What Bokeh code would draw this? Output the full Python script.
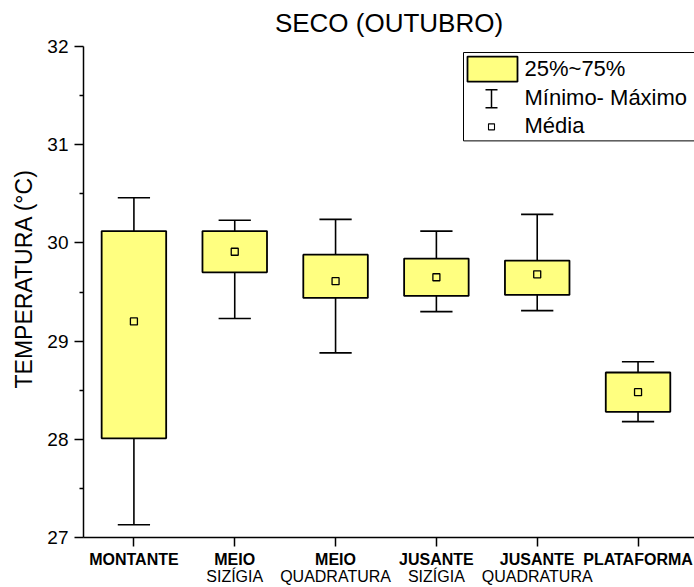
from bokeh.plotting import figure
from bokeh.models import Range1d, FixedTicker, LinearAxis, ColumnDataSource, Title
from bokeh.core.properties import value
from bokeh.embed import file_html
from bokeh.resources import INLINE

# --- data: water temperature (°C), dry season (October) ---
stations_top = ["MONTANTE", "MEIO", "MEIO", "JUSANTE", "JUSANTE", "PLATAFORMA"]
stations_sub = ["", "SIZÍGIA", "QUADRATURA", "SIZÍGIA", "QUADRATURA", ""]
t_min = [27.13, 29.23, 28.88, 29.30, 29.31, 28.18]
t_q1 = [28.01, 29.70, 29.44, 29.46, 29.47, 28.28]
t_mean = [29.20, 29.91, 29.61, 29.65, 29.68, 28.48]
t_q3 = [30.12, 30.12, 29.88, 29.84, 29.82, 28.68]
t_max = [30.46, 30.23, 30.24, 30.12, 30.29, 28.79]
y_ticks = [27, 28, 29, 30, 31, 32]
legend_labels = ["25%~75%", "Mínimo- Máximo", "Média"]
title_text = "SECO (OUTUBRO)"
y_label_text = "TEMPERATURA (°C)"

FONT = "Liberation Sans"
W, H = 694, 587
LEFT, TOP, FRAME_BOTTOM = 83, 47, 536
X_START, X_END = 0.5, 6.56
Y_START, Y_END = 27, 32
BOX_W = 0.64
CAP_W = 0.32
YELLOW = "#ffff80"

x = list(range(1, len(t_mean) + 1))
src = ColumnDataSource(dict(
    x=x, t_min=t_min, q1=t_q1, mean=t_mean, q3=t_q3, t_max=t_max,
    cap_l=[v - CAP_W / 2 for v in x], cap_r=[v + CAP_W / 2 for v in x],
))

p = figure(width=W, height=H,
           x_range=Range1d(X_START, X_END), y_range=Range1d(Y_START, Y_END),
           x_axis_type=None, output_backend="svg", toolbar_location=None,
           min_border_left=LEFT, min_border_right=0, min_border_top=0,
           min_border_bottom=0, title=title_text)
p.outline_line_color = None
p.grid.visible = False
p.background_fill_color = "white"

p.title.text_font = FONT
p.title.text_font_size = "26px"
p.title.text_font_style = "normal"
p.title.text_color = "black"
p.title.align = "center"
p.title.vertical_align = "top"
p.title.standoff = 14

# vertical axis title, set a little above the middle of the axis
p.add_layout(Title(text=y_label_text, align="left", offset=149, standoff=16,
                   vertical_align="bottom", text_font=FONT, text_font_size="23px",
                   text_font_style="normal", text_color="black"), "left")


# helper mapping canvas pixels to data units (legend layout)
def dx(px):
    return X_START + (px - LEFT) * (X_END - X_START) / (W - LEFT)


def dy(py):
    return Y_END - (py - TOP) * (Y_END - Y_START) / (FRAME_BOTTOM - TOP)


# whiskers and caps
p.segment(x0="x", y0="t_min", x1="x", y1="q1", source=src, line_color="black", line_width=1.6)
p.segment(x0="x", y0="q3", x1="x", y1="t_max", source=src, line_color="black", line_width=1.6)
p.segment(x0="cap_l", y0="t_min", x1="cap_r", y1="t_min", source=src, line_color="black", line_width=1.6)
p.segment(x0="cap_l", y0="t_max", x1="cap_r", y1="t_max", source=src, line_color="black", line_width=1.6)
# interquartile boxes
p.vbar(x="x", width=BOX_W, bottom="q1", top="q3", source=src,
       fill_color=YELLOW, line_color="black", line_width=1.8)
# means
p.scatter(x="x", y="mean", source=src, marker="square", size=7,
          fill_alpha=0, line_color="black", line_width=1.3)

# y axis
ya = p.yaxis[0]
ya.ticker = FixedTicker(ticks=y_ticks, minor_ticks=[v + 0.5 for v in y_ticks[:-1]])
ya.major_label_text_font = FONT
ya.major_label_text_font_size = "19px"
ya.major_label_text_color = "black"
ya.major_label_standoff = 6
ya.axis_line_width = 1.5
ya.major_tick_line_width = 1.5
ya.minor_tick_line_width = 1.5
ya.major_tick_in = 0
ya.major_tick_out = 9
ya.minor_tick_in = 0
ya.minor_tick_out = 4

# x axis: bold station names, then the tide phase underneath
xa = LinearAxis(ticker=FixedTicker(ticks=x, minor_ticks=[]),
                major_label_overrides={v: s for v, s in zip(x, stations_top)})
xa.major_label_text_font = FONT
xa.major_label_text_font_size = "16px"
xa.major_label_text_font_style = "bold"
xa.major_label_text_color = "black"
xa.major_label_standoff = 4
xa.axis_line_width = 1.5
xa.major_tick_line_width = 1.5
xa.major_tick_in = 0
xa.major_tick_out = 9
p.add_layout(xa, "below")

xb = LinearAxis(ticker=FixedTicker(ticks=x, minor_ticks=[]),
                major_label_overrides={v: s for v, s in zip(x, stations_sub)})
xb.major_label_text_font = FONT
xb.major_label_text_font_size = "16px"
xb.major_label_text_font_style = "normal"
xb.major_label_text_color = "black"
xb.major_label_standoff = -9
xb.axis_line_color = None
xb.major_tick_line_color = None
xb.minor_tick_line_color = None
p.add_layout(xb, "below")

# legend
p.quad(left=[dx(463)], right=[X_END + 1], top=[dy(53)], bottom=[dy(141)],
       fill_color="white", line_color="black", line_width=1)
p.quad(left=[dx(467)], right=[dx(517)], top=[dy(57)], bottom=[dy(82)],
       fill_color=YELLOW, line_color="black", line_width=1.8)
p.segment(x0=[dx(491), dx(485), dx(485)], y0=[dy(90), dy(90), dy(108)],
          x1=[dx(491), dx(497), dx(497)], y1=[dy(108), dy(90), dy(108)],
          line_color="black", line_width=1.5)
p.scatter(x=[dx(491)], y=[dy(127)], marker="square", size=6,
          fill_alpha=0, line_color="black", line_width=1.1)
p.text(x=[dx(524)] * 3, y=[dy(69), dy(98), dy(126)], text=legend_labels,
       text_font=value(FONT), text_font_size="22px", text_baseline="middle",
       text_align="left", text_color="black")

open("out.html", "w").write(file_html(p, INLINE))
